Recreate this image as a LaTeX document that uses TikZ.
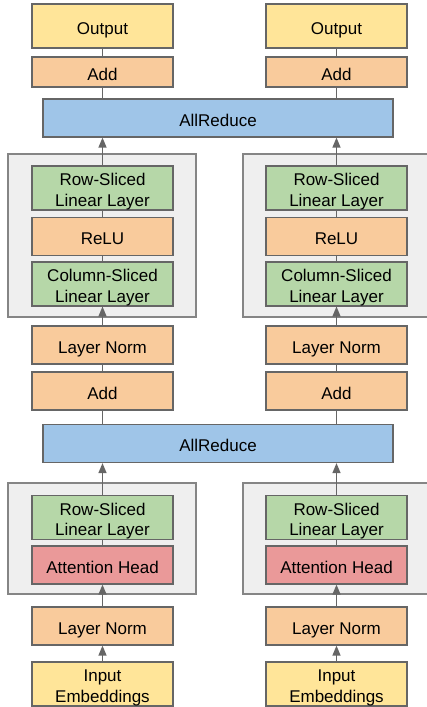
\documentclass[tikz,border=0pt]{standalone}
\usepackage{fontspec}
\setmainfont{Liberation Sans}
\usetikzlibrary{arrows.meta}

\definecolor{ioyellow}{HTML}{FFE599}
\definecolor{oporange}{HTML}{F9CB9C}
\definecolor{slicegreen}{HTML}{B6D7A8}
\definecolor{reduceblue}{HTML}{9FC5E8}
\definecolor{headred}{HTML}{EA9999}
\definecolor{shardgray}{HTML}{EFEFEF}
\definecolor{edgegray}{HTML}{666666}
\newcommand{\topstrut}{\rule{0pt}{1.16em}}
\newcommand{\botstrut}{\rule[-0.212em]{0pt}{0pt}}

\begin{document}
\begin{tikzpicture}[x=1pt, y=-1pt,
        blk/.style={draw=edgegray, line width=1.2pt, minimum width=141pt, minimum height=38pt,
                inner sep=0pt, align=center, font=\fontsize{17}{20.5}\selectfont,
                execute at begin node=\topstrut, execute at end node=\botstrut},
        io/.style={blk, fill=ioyellow, minimum height=44pt},
        op/.style={blk, fill=oporange},
        slice/.style={blk, fill=slicegreen},
        head/.style={blk, fill=headred},
        reduce/.style={blk, fill=reduceblue, minimum width=350pt},
        shard/.style={draw=edgegray!80, line width=1.2pt, fill=shardgray},
        link/.style={draw=edgegray, line width=1.4pt},
        flow/.style={link, -{Triangle[width=8pt, length=10pt]}}]
        \useasboundingbox (0, 0) rectangle (427, 707);

        % tensor parallel shards
        \draw[shard] (8, 154) rectangle (196, 317);
        \draw[shard] (243, 154) rectangle (431, 317);
        \draw[shard] (8, 483) rectangle (196, 594);
        \draw[shard] (243, 483) rectangle (431, 594);

        % left column
        \node[io] (inL) at (102.5, 684){\topstrut Input\\Embeddings};
        \node[op] (lnaL) at (102.5, 626){Layer Norm};
        \node[head] (attL) at (102.5, 565){Attention Head};
        \node[slice] (rowaL) at (102.5, 517.5){\topstrut Row-Sliced\\Linear Layer};
        \node[op] (addaL) at (102.5, 391){Add};
        \node[op] (lnbL) at (102.5, 345){Layer Norm};
        \node[slice] (colL) at (102.5, 284){\topstrut Column-Sliced\\Linear Layer};
        \node[op] (reluL) at (102.5, 236.5){ReLU};
        \node[slice] (rowbL) at (102.5, 188){\topstrut Row-Sliced\\Linear Layer};
        \node[op, minimum height=30pt] (addbL) at (102.5, 72){Add};
        \node[io] (outL) at (102.5, 26){Output};

        % right column
        \node[io] (inR) at (336.5, 684){\topstrut Input\\Embeddings};
        \node[op] (lnaR) at (336.5, 626){Layer Norm};
        \node[head] (attR) at (336.5, 565){Attention Head};
        \node[slice] (rowaR) at (336.5, 517.5){\topstrut Row-Sliced\\Linear Layer};
        \node[op] (addaR) at (336.5, 391){Add};
        \node[op] (lnbR) at (336.5, 345){Layer Norm};
        \node[slice] (colR) at (336.5, 284){\topstrut Column-Sliced\\Linear Layer};
        \node[op] (reluR) at (336.5, 236.5){ReLU};
        \node[slice] (rowbR) at (336.5, 188){\topstrut Row-Sliced\\Linear Layer};
        \node[op, minimum height=30pt] (addbR) at (336.5, 72){Add};
        \node[io] (outR) at (336.5, 26){Output};

        % shared reductions
        \node[reduce] (reda) at (218, 443.5){AllReduce};
        \node[reduce] (redb) at (218, 118){AllReduce};

        % connectors
        \draw[flow] (inL) -- (lnaL);
        \draw[flow] (lnaL) -- (attL);
        \draw[link] (attL) -- (rowaL);
        \draw[flow] (rowaL) -- (rowaL |- reda.south);
        \draw[link] (addaL |- reda.north) -- (addaL);
        \draw[link] (addaL) -- (lnbL);
        \draw[flow] (lnbL) -- (colL);
        \draw[link] (colL) -- (reluL);
        \draw[link] (reluL) -- (rowbL);
        \draw[flow] (rowbL) -- (rowbL |- redb.south);
        \draw[link] (addbL |- redb.north) -- (addbL);
        \draw[link] (addbL) -- (outL);

        \draw[flow] (inR) -- (lnaR);
        \draw[flow] (lnaR) -- (attR);
        \draw[link] (attR) -- (rowaR);
        \draw[flow] (rowaR) -- (rowaR |- reda.south);
        \draw[link] (addaR |- reda.north) -- (addaR);
        \draw[link] (addaR) -- (lnbR);
        \draw[flow] (lnbR) -- (colR);
        \draw[link] (colR) -- (reluR);
        \draw[link] (reluR) -- (rowbR);
        \draw[flow] (rowbR) -- (rowbR |- redb.south);
        \draw[link] (addbR |- redb.north) -- (addbR);
        \draw[link] (addbR) -- (outR);
\end{tikzpicture}
\end{document}
